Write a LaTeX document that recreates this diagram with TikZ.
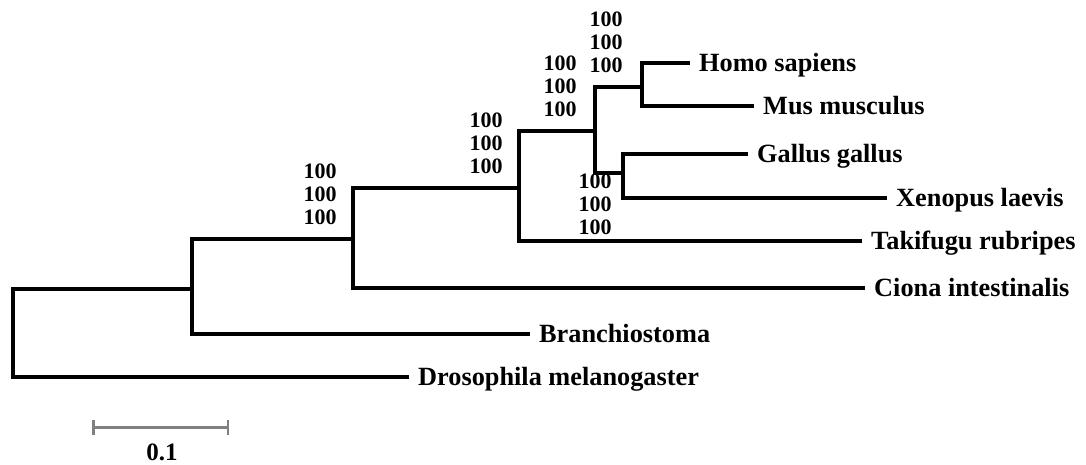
\documentclass[tikz,border=0pt]{standalone}
\usepackage{fontspec}
\setmainfont{Liberation Serif}
\usetikzlibrary{arrows.meta}
\definecolor{bargray}{HTML}{808080}

\begin{document}
\begin{tikzpicture}[x=1pt,y=-1pt,
  br/.style={line width=4.5pt},
  leaf/.style={anchor=west,inner xsep=9pt,inner ysep=0pt,text height=17pt,text depth=0pt,font=\fontsize{26.3}{28}\selectfont\bfseries},
  boot/.style={align=center,inner sep=0pt,font=\fontsize{22}{23}\selectfont\bfseries},
  sbar/.style={draw=bargray,line width=3pt,{Bar[width=15pt,line width=2.5pt]}-{Bar[width=15pt,line width=2.5pt]}}]
  \useasboundingbox (0,0) rectangle (1086,464);
  % internal nodes
  \coordinate (r) at (13,333);
  \coordinate (a) at (192,289);
  \coordinate (b) at (353,239);
  \coordinate (c) at (519,188);
  \coordinate (d) at (595,131);
  \coordinate (e) at (642,87);
  \coordinate (f) at (623,173);
  % leaves
  \node[leaf] (homo) at (690,63) {Homo sapiens};
  \node[leaf] (mus) at (754,106) {Mus musculus};
  \node[leaf] (gallus) at (748,154) {Gallus gallus};
  \node[leaf] (xenopus) at (887,198) {Xenopus laevis};
  \node[leaf] (takifugu) at (862,241) {Takifugu rubripes};
  \node[leaf] (ciona) at (865,288) {Ciona intestinalis};
  \node[leaf] (branchio) at (530,334) {Branchiostoma};
  \node[leaf] (dros) at (409,377) {Drosophila melanogaster};
  % branches
  \draw[br] (r) |- (a); \draw[br] (r) |- (dros);
  \draw[br] (a) |- (b); \draw[br] (a) |- (branchio);
  \draw[br] (b) |- (c); \draw[br] (b) |- (ciona);
  \draw[br] (c) |- (d); \draw[br] (c) |- (takifugu);
  \draw[br] (d) |- (e); \draw[br] (d) |- (f);
  \draw[br] (e) |- (homo); \draw[br] (e) |- (mus);
  \draw[br] (f) |- (gallus); \draw[br] (f) |- (xenopus);
  % bootstrap values
  \node[boot] (bootb) at (320,194) {100\\100\\100};
  \node[boot] (bootc) at (486,143) {100\\100\\100};
  \node[boot] (bootd) at (560,86) {100\\100\\100};
  \node[boot] (boote) at (606,42) {100\\100\\100};
  \node[boot] (bootf) at (595,204) {100\\100\\100};
  % scale bar
  \coordinate (s1) at (92,427);
  \coordinate (s2) at (229,427);
  \draw[sbar] (s1) -- (s2);
  \node[font=\fontsize{25}{27}\selectfont\bfseries] (slabel) at (162,452) {0.1};
\end{tikzpicture}
\end{document}
